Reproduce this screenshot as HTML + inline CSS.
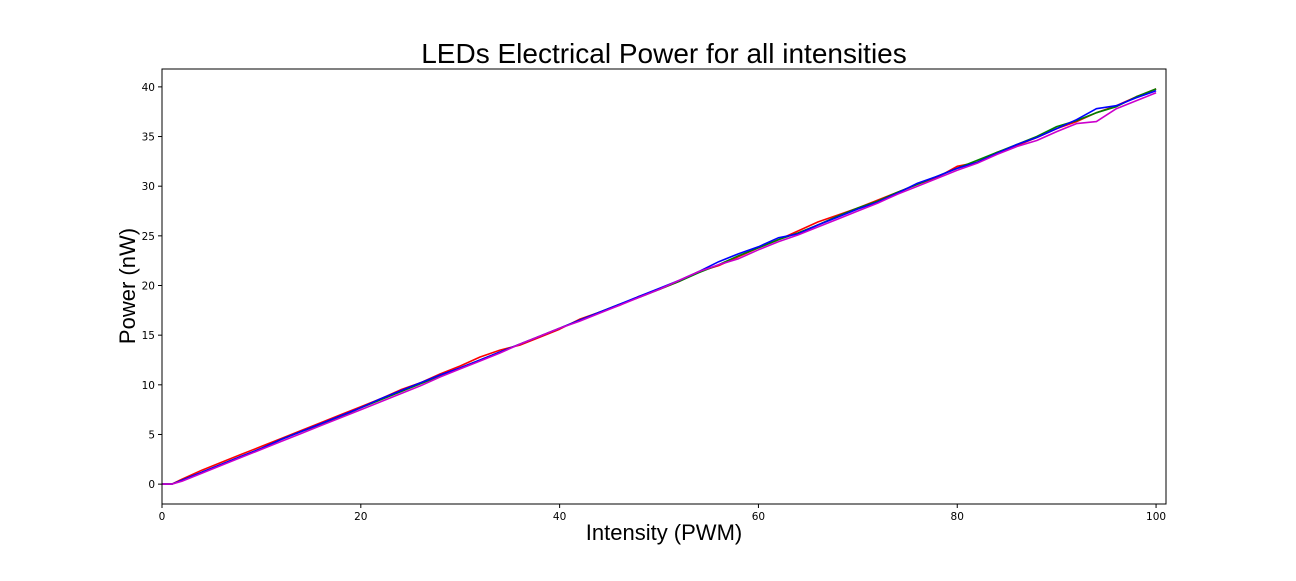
<!DOCTYPE html>
<html><head><meta charset="utf-8"><style>
body{margin:0;background:#fff;width:1296px;height:576px;overflow:hidden;font-family:"Liberation Sans","DejaVu Sans",sans-serif}
</style></head><body>
<svg id="chart" width="1296" height="576" xmlns="http://www.w3.org/2000/svg">
<text x="664" y="63" font-size="28" text-anchor="middle" font-family="Liberation Sans, DejaVu Sans, sans-serif">LEDs Electrical Power for all intensities</text>
<g id="plot"></g>
<text x="664" y="540" font-size="22" text-anchor="middle" font-family="Liberation Sans, DejaVu Sans, sans-serif">Intensity (PWM)</text>
<text transform="translate(135,286) rotate(-90)" font-size="22" text-anchor="middle" font-family="Liberation Sans, DejaVu Sans, sans-serif">Power (nW)</text>
</svg>
<script>
const xs = [0,1,2,4,6,8,10,12,14,16,18,20,22,24,26,28,30,32,34,36,38,40,42,44,46,48,50,52,54,56,58,60,62,64,66,68,70,72,74,76,78,80,82,84,86,88,90,92,94,96,98,100];
const red = [0,0,0.5,1.4,2.2,3.0,3.8,4.6,5.4,6.2,7.0,7.8,8.6,9.5,10.2,11.1,11.9,12.8,13.5,14.0,14.8,15.6,16.6,17.3,18.0,18.9,19.6,20.4,21.4,22.0,22.9,23.8,24.6,25.5,26.4,27.1,27.8,28.6,29.4,30.2,30.9,32.0,32.4,33.4,34.1,34.9,35.8,36.5,37.4,38.1,39.0,39.8];
const green = [0,0,0.4,1.2,2.0,2.8,3.6,4.5,5.3,6.0,6.8,7.7,8.5,9.3,10.1,10.9,11.7,12.5,13.3,14.1,14.9,15.7,16.5,17.3,18.1,18.8,19.6,20.4,21.3,22.1,23.0,23.8,24.6,25.3,26.1,27.0,27.8,28.5,29.4,30.2,31.0,31.8,32.6,33.4,34.2,35.0,36.0,36.6,37.4,38.0,39.0,39.8];
const blue = [0,0,0.4,1.2,2.0,2.8,3.6,4.5,5.3,6.1,6.9,7.7,8.6,9.4,10.2,11.0,11.7,12.5,13.3,14.1,14.9,15.7,16.5,17.3,18.1,18.9,19.7,20.5,21.4,22.4,23.2,23.9,24.8,25.2,26.1,26.9,27.7,28.4,29.3,30.3,31.0,31.8,32.4,33.3,34.2,34.9,35.8,36.7,37.8,38.1,38.9,39.6];
const magenta = [0,0,0.3,1.1,1.9,2.7,3.5,4.3,5.1,5.9,6.7,7.5,8.3,9.1,9.9,10.8,11.6,12.4,13.2,14.1,14.9,15.7,16.4,17.2,18.0,18.8,19.6,20.5,21.4,22.1,22.7,23.6,24.4,25.1,25.9,26.7,27.5,28.3,29.2,30.0,30.8,31.6,32.3,33.2,34.0,34.6,35.5,36.3,36.5,37.8,38.6,39.4];
const xTicks = [0,20,40,60,80,100];
const yTicks = [0,5,10,15,20,25,30,35,40];
const L=162,R=1166,T=69,B=504,xmin=-0.0,xmax=101,ymin=-2.0,ymax=41.8;
const sx=v=>L+(v-xmin)/(xmax-xmin)*(R-L);
const sy=v=>B-(v-ymin)/(ymax-ymin)*(B-T);
const NS='http://www.w3.org/2000/svg';
const g=document.getElementById('plot');
function mk(t,a){const e=document.createElementNS(NS,t);for(const k in a)e.setAttribute(k,a[k]);g.appendChild(e);return e;}
const series=[['red','#ff0000'],['green','#008000'],['blue','#0000ff'],['magenta','#cc00cc']];
const data={red,green,blue,magenta};
series.forEach(([n,c])=>{
  const d=data[n].map((v,i)=>(i?'L':'M')+sx(xs[i]).toFixed(1)+','+sy(v).toFixed(1)).join('');
  const p=mk('path',{d,fill:'none',stroke:c,'stroke-width':1.6,'stroke-linejoin':'round'});
  
  
});
const frame=mk('rect',{x:L,y:T,width:R-L,height:B-T,fill:'none',stroke:'#000','stroke-width':1});


xTicks.forEach(v=>{
  const tk=mk('line',{x1:sx(v),x2:sx(v),y1:B,y2:B+4,stroke:'#000'});
  
  
  const t=mk('text',{x:sx(v),y:B+16,'font-size':10.5,'text-anchor':'middle','font-family':'DejaVu Sans, sans-serif'});
  t.textContent=v;
  
  
});
yTicks.forEach(v=>{
  const tk=mk('line',{x1:L-4,x2:L,y1:sy(v),y2:sy(v),stroke:'#000'});
  
  
  const t=mk('text',{x:L-7,y:sy(v)+4,'font-size':10.5,'text-anchor':'end','font-family':'DejaVu Sans, sans-serif'});
  t.textContent=v;
  
  
});
</script>
</body></html>
